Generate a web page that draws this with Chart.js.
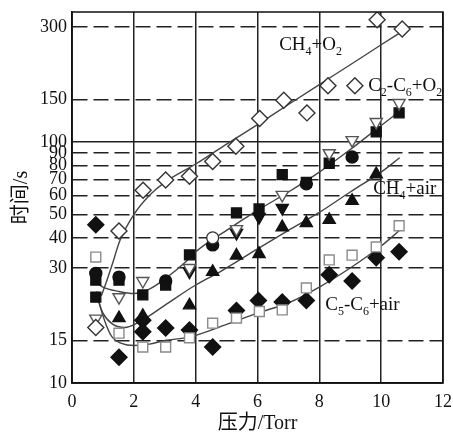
<!DOCTYPE html>
<html>
<head>
<meta charset="utf-8">
<script src="https://cdn.jsdelivr.net/npm/chart.js@4.4.1/dist/chart.umd.min.js"></script>
<style>
  html, body { margin: 0; padding: 0; background: #fff; }
  #wrap { width: 453px; height: 436px; }
</style>
</head>
<body>
<div id="wrap"><canvas id="myChart"></canvas></div>
<script>
// tick labels
const xTicks = [0, 2, 4, 6, 8, 10, 12];
const yTicks = [10, 15, 30, 40, 50, 60, 70, 80, 90, 100, 150, 300];

// CH4+O2 (open diamonds)
const ch4o2X = [0.77, 1.52, 2.3, 3.03, 3.8, 4.55, 5.3, 6.07, 6.85, 7.6, 8.28, 9.15, 9.87, 10.68];
const ch4o2Y = [17, 42.7, 63, 69.5, 72, 83, 96, 125, 149, 132, 171, 171, 321, 294];

// C2-C6+O2 group
const sqX = [0.77, 0.77, 1.52, 2.29, 3.03, 3.8, 5.32, 6.05, 6.8, 7.58, 8.32, 9.84, 10.58];
const sqY = [22.7, 26.7, 26.7, 23.2, 25.5, 34, 50.8, 52.7, 73.2, 68, 81.6, 110, 132];
const circX = [0.77, 1.52, 3.03, 4.55, 7.58, 9.06];
const circY = [28.5, 27.5, 26.5, 37.4, 67, 86.6];
const openTriX = [0.77, 1.52, 2.29, 3.8, 5.32, 6.8, 8.32, 9.06, 9.84, 10.58];
const openTriY = [18.5, 22.7, 26.5, 30, 43.5, 60.3, 89.8, 101.8, 121, 145];
const fillInvX = [3.8, 5.32, 6.05, 6.8];
const fillInvY = [29, 41.9, 48.8, 53.2];
const openCircX = [4.55];
const openCircY = [40];

// CH4+air (filled triangles)
const triX = [1.52, 2.29, 3.8, 4.55, 5.32, 6.05, 6.8, 7.58, 8.32, 9.06, 9.84];
const triY = [18.6, 19, 21, 28.9, 33.8, 34.3, 44.3, 46.1, 47.5, 57, 73.5];

// C5-C6+air
const openSqX = [0.77, 1.52, 2.29, 3.03, 3.8, 4.55, 5.32, 6.06, 6.8, 7.58, 8.32, 9.06, 9.84, 10.58];
const openSqY = [33.3, 16.1, 14.1, 14.1, 15.4, 17.7, 18.6, 19.8, 20.1, 24.8, 32.4, 33.9, 36.7, 44.9];
const diaX = [0.77, 1.52, 2.29, 2.29, 3.03, 3.8, 4.55, 5.32, 6.03, 6.8, 7.58, 8.32, 9.06, 9.84, 10.58];
const diaY = [45.3, 12.8, 18.2, 16.3, 16.9, 16.6, 14.1, 20, 22, 21.7, 22, 28.1, 26.5, 33.1, 35];

// fitted curves
const fitO2X = [0.95, 1.1, 1.3, 1.55, 2, 2.5, 3, 4, 5, 6, 7, 8, 9, 10, 10.6];
const fitO2Y = [23, 26, 31, 39, 50, 60, 68, 81, 98, 118, 143, 173, 209, 253, 283];
const fitC2X = [0.8, 1, 1.5, 2, 2.5, 3, 3.7, 4, 5, 6, 7, 8, 9, 10, 10.6];
const fitC2Y = [26, 25, 24, 23.5, 24.5, 27, 32, 35, 43, 52, 62, 75, 93, 117, 134];
const fitAirX = [0.85, 1, 1.3, 1.7, 2.2, 3, 4, 4.8, 6, 7, 8, 9, 10, 10.6];
const fitAirY = [22, 19.5, 17.6, 17, 18, 21, 25.5, 29, 36, 43, 51, 62, 75, 86];
const fitC5X = [0.8, 0.9, 1.1, 1.3, 1.6, 2, 2.5, 3, 3.8, 5, 6, 7, 8, 9, 10, 10.6];
const fitC5Y = [24, 21, 17.5, 15.5, 14.6, 14.3, 14.5, 15, 15.5, 17.5, 19.5, 21.5, 25, 30, 37, 43];

// curve labels: pieces ("s" = subscript), x, baseline y
const labelText = [
  [["CH", ""], ["4", "s"], ["+O", ""], ["2", "s"]],
  [["C", ""], ["2", "s"], ["-C", ""], ["6", "s"], ["+O", ""], ["2", "s"]],
  [["CH", ""], ["4", "s"], ["+air", ""]],
  [["C", ""], ["5", "s"], ["-C", ""], ["6", "s"], ["+air", ""]]
];
const labelX = [6.7, 9.58, 9.74, 8.19];
const labelY = [241, 163, 60.9, 20.1];

const serif = '"Liberation Serif", "Times New Roman", serif';
const cjk = '"Liberation Serif", "Noto Sans CJK SC", serif';

function pts(xs, ys) {
  return xs.map((x, i) => ({ x: x, y: ys[i] }));
}

function marks(xs, ys, style, fill, border, radius, rot) {
  return {
    data: pts(xs, ys),
    pointStyle: style,
    pointRadius: radius,
    pointRotation: rot || 0,
    backgroundColor: fill,
    borderColor: border,
    pointBorderWidth: 1.4,
    showLine: false,
    order: 1
  };
}

function curve(xs, ys) {
  return {
    type: 'line',
    data: pts(xs, ys),
    borderColor: '#444',
    borderWidth: 1.4,
    pointRadius: 0,
    fill: false,
    cubicInterpolationMode: 'monotone',
    order: 10
  };
}

const framePlugin = {
  id: 'frame',
  afterDraw(chart) {
    const a = chart.chartArea;
    const c = chart.ctx;
    c.save();
    c.strokeStyle = '#111';
    c.lineWidth = 1.5;
    c.strokeRect(a.left, a.top, a.right - a.left, a.bottom - a.top);
    c.restore();
  }
};

const labelPlugin = {
  id: 'curveLabels',
  afterDatasetsDraw(chart) {
    const c = chart.ctx;
    const xs = chart.scales.x, ys = chart.scales.y;
    c.save();
    c.fillStyle = '#111';
    c.textBaseline = 'alphabetic';
    labelText.forEach((parts, i) => {
      let px = xs.getPixelForValue(labelX[i]);
      const py = ys.getPixelForValue(labelY[i]);
      parts.forEach(p => {
        if (p[1] === 's') {
          c.font = '12px ' + serif;
          c.fillText(p[0], px, py + 5);
        } else {
          c.font = '19px ' + serif;
          c.fillText(p[0], px, py);
        }
        px += c.measureText(p[0]).width;
      });
    });
    c.restore();
  }
};

const ctx = document.getElementById('myChart');

new Chart(ctx, {
  type: 'scatter',
  data: {
    datasets: [
      marks(ch4o2X, ch4o2Y, 'rectRot', '#fff', '#333', 8),
      marks(openSqX, openSqY, 'rect', '#fff', '#8a8a8a', 7),
      marks(openTriX, openTriY, 'triangle', '#fff', '#555', 7, 180),
      marks(openCircX, openCircY, 'circle', '#fff', '#333', 6),
      marks(sqX, sqY, 'rect', '#111', '#111', 7),
      marks(circX, circY, 'circle', '#111', '#111', 6),
      marks(fillInvX, fillInvY, 'triangle', '#111', '#111', 7, 180),
      marks(triX, triY, 'triangle', '#111', '#111', 7),
      marks(diaX, diaY, 'rectRot', '#111', '#111', 8),
      curve(fitO2X, fitO2Y),
      curve(fitC2X, fitC2Y),
      curve(fitAirX, fitAirY),
      curve(fitC5X, fitC5Y)
    ]
  },
  options: {
    responsive: true,
    maintainAspectRatio: false,
    animation: false,
    events: [],
    layout: { padding: { top: 12, right: 10, left: 0, bottom: 0 } },
    plugins: { legend: { display: false }, tooltip: { enabled: false } },
    scales: {
      x: {
        type: 'linear',
        min: 0,
        max: 12,
        afterBuildTicks: s => { s.ticks = xTicks.map(v => ({ value: v })); },
        afterFit: s => { s.height = 53; s.paddingLeft = 0; s.paddingRight = 0; },
        ticks: { font: { family: serif, size: 18 }, color: '#111', padding: 8 },
        grid: { color: '#222', lineWidth: 1.5, drawTicks: false },
        border: { color: '#111', width: 1.5 },
        title: { display: true, text: '压力/Torr', font: { family: cjk, size: 20 }, color: '#111', padding: { top: 0, bottom: 0 } }
      },
      y: {
        type: 'logarithmic',
        min: 10,
        max: 346,
        afterBuildTicks: s => { s.ticks = yTicks.map(v => ({ value: v })); },
        afterFit: s => { s.width = 72; s.paddingTop = 0; s.paddingBottom = 0; },
        ticks: {
          autoSkip: false,
          font: { family: serif, size: 18 },
          color: '#111',
          padding: 5,
          callback: v => String(v)
        },
        grid: { color: '#222', lineWidth: 1.5, drawTicks: false },
        border: {
          color: '#111',
          width: 1.5,
          dash: c => (c.tick && (c.tick.value === 100 || c.tick.value === 10)) ? [] : [15, 6]
        },
        title: { display: true, text: '时间/s', font: { family: cjk, size: 20 }, color: '#111', padding: { top: 10, bottom: 0 } }
      }
    }
  },
  plugins: [framePlugin, labelPlugin]
});
</script>
</body>
</html>
